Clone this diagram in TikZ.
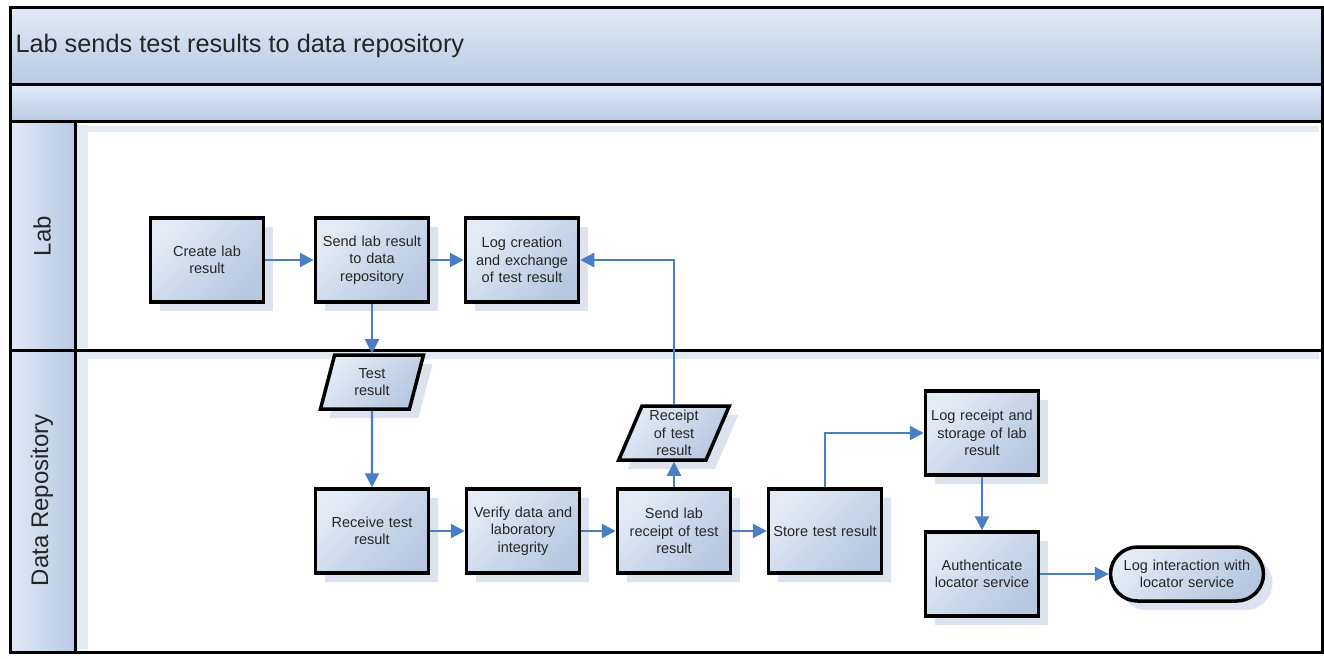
\documentclass[tikz,border=0pt]{standalone}
\usepackage{fontspec}
\setmainfont{Liberation Sans}
\usetikzlibrary{arrows.meta,shadows,shapes.geometric}
\definecolor{boxlight}{HTML}{E4EBF5}
\definecolor{boxdark}{HTML}{B6C7DF}
\definecolor{arrowc}{HTML}{4A7EC4}
\definecolor{shadowc}{HTML}{DDE3EE}
\definecolor{bandlight}{HTML}{E2E9F5}
\definecolor{banddark}{HTML}{B8CAE3}
\definecolor{stripc}{HTML}{E3EAF4}
\definecolor{txt}{HTML}{262626}
\begin{document}
\begin{tikzpicture}[x=1pt,y=-1pt,
  lane/.style={draw=black, line width=3pt},
  band/.style={lane, top color=bandlight, bottom color=banddark},
  labcol/.style={lane, left color=bandlight, right color=banddark},
  boxbase/.style={draw=black, line width=3.5pt,
    top color=boxlight, bottom color=boxdark, shading angle=45,
    align=center, font=\fontsize{14.5}{17.5}\selectfont, text=txt, inner sep=0pt,
    drop shadow={shadow xshift=9pt, shadow yshift=-9pt, fill=shadowc, opacity=1}},
  proc/.style={boxbase, rectangle, minimum width=113pt, minimum height=84pt, text width=112pt},
  data/.style={boxbase, trapezium, trapezium left angle=63, trapezium right angle=117,
    trapezium stretches body, minimum width=103pt, minimum height=54pt, text width=64pt},
  term/.style={boxbase, rectangle, rounded corners=27pt, minimum width=153pt, minimum height=54pt, text width=150pt},
  arr/.style={draw=arrowc, line width=2.4pt, -{Triangle[length=14pt,width=14pt]}},
  lanelabel/.style={rotate=90, font=\fontsize{24}{28}\selectfont, text=txt},
]
\useasboundingbox (0,0) rectangle (1324,658);
% title bands
\draw[band] (10,8) rectangle (1322,85);
\draw[band] (10,85) rectangle (1322,122);
\node[anchor=west, font=\fontsize{25.3}{30}\selectfont, text=txt] (title) at (12,46) {Lab sends test results to data repository};
% lanes
\draw[lane, fill=white] (10,122) rectangle (1322,350);
\draw[lane, fill=white] (10,350) rectangle (1322,652);
\fill[stripc] (77,125) rectangle (88,348);
\fill[stripc] (88,126) rectangle (1319,132);
\fill[stripc] (77,352) rectangle (88,649);
\fill[stripc] (77,352) rectangle (1319,359);
\draw[labcol] (10,122) rectangle (75,350);
\draw[labcol] (10,350) rectangle (75,652);
\draw[lane] (10,122) rectangle (1322,652);
\draw[lane] (10,350) -- (1322,350);
\node[lanelabel] (lablane) at (42,236) {Lab};
\node[lanelabel] (drlane) at (42,500) {Data Repository};
% nodes
\node[proc] (create) at (207,260) {Create lab\\result};
\node[proc] (send) at (372,260) {Send lab result\\to data\\repository};
\node[proc] (logc) at (522,260) {Log creation\\and exchange\\of test result};
\node[data] (test) at (372,382) {Test\\result};
\node[proc] (recv) at (372,531) {Receive test\\result};
\node[proc] (verify) at (523,531) {Verify data and\\laboratory\\integrity};
\node[proc] (sendr) at (674,531) {Send lab\\receipt of test\\result};
\node[data] (receipt) at (674,433) {Receipt\\of test\\result};
\node[proc] (store) at (825,531) {Store test result};
\node[proc] (logr) at (982,433) {Log receipt and\\storage of lab\\result};
\node[proc] (auth) at (982,574) {Authenticate\\locator service};
\node[term] (logi) at (1187,574) {Log interaction with\\locator service};
% connectors
\draw[arr] (create) -- (send);
\draw[arr] (send) -- (logc);
\draw[arr] (send) -- (test);
\draw[arr] (test) -- (recv);
\draw[arr] (recv) -- (verify);
\draw[arr] (verify) -- (sendr);
\draw[arr] (sendr) -- (store);
\draw[arr] (sendr) -- (receipt);
\draw[arr] (receipt.north) |- (logc.east);
\draw[arr] (store.north) |- (logr.west);
\draw[arr] (logr) -- (auth);
\draw[arr] (auth) -- (logi);
\end{tikzpicture}
\end{document}
